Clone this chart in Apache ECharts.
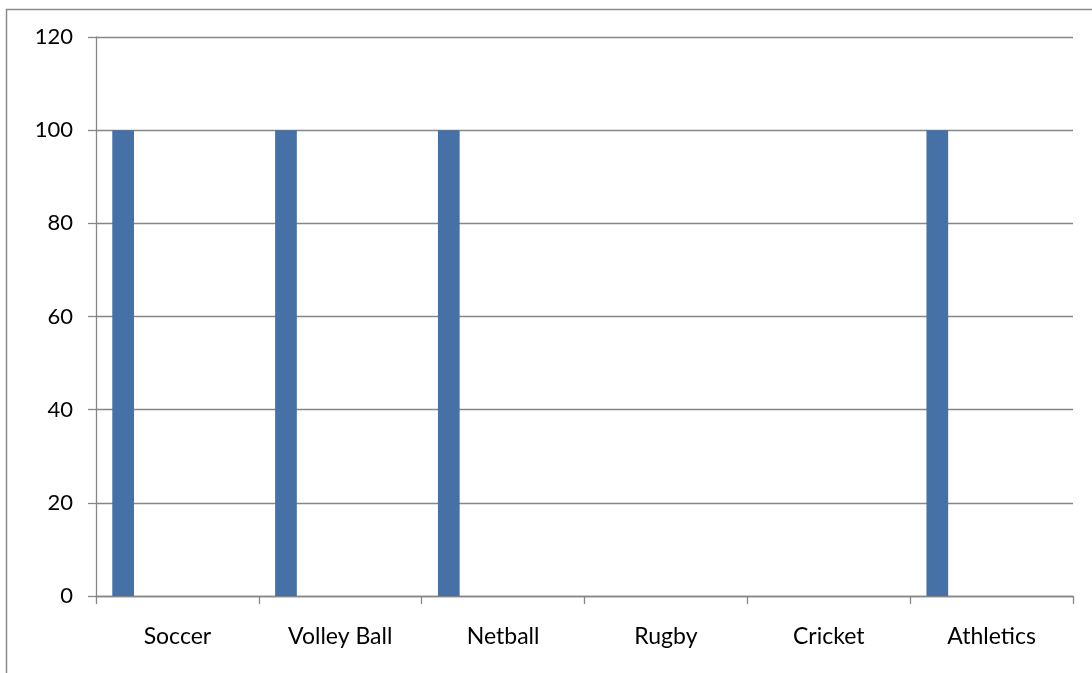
<!DOCTYPE html>
<html>
<head>
<meta charset="utf-8">
<style>
  html, body { margin: 0; padding: 0; background: #ffffff; }
  #chart { width: 1092px; height: 673px; }
</style>
<script src="https://cdn.jsdelivr.net/npm/echarts@6/dist/echarts.min.js"></script>
</head>
<body>
<div id="chart"></div>
<script>
// Sports and the percentage of participation per sport
const categories = ['Soccer', 'Volley Ball', 'Netball', 'Rugby', 'Cricket', 'Athletics'];
const participation = [100, 100, 100, 0, 0, 100];
// Remaining clustered series slots carry no values
const emptySeriesCount = 5;
const yTicks = { min: 0, max: 120, interval: 20 };

const gridColor = '#868686';
const barColor = '#4571a7';
const font = 'Lato, "Open Sans", sans-serif';

const series = [{
  type: 'bar',
  name: 'Series 1',
  data: participation,
  itemStyle: { color: barColor },
  barGap: '0%',
  barCategoryGap: '20%',
  silent: true
}];
for (let i = 0; i < emptySeriesCount; i++) {
  series.push({
    type: 'bar',
    name: 'Series ' + (i + 2),
    data: categories.map(() => null),
    barGap: '0%',
    barCategoryGap: '20%',
    silent: true
  });
}

const chart = echarts.init(document.getElementById('chart'), null, { renderer: 'canvas' });
chart.setOption({
  animation: false,
  backgroundColor: '#ffffff',
  graphic: [{
    type: 'rect',
    shape: { x: 6.5, y: 9.5, width: 1200, height: 800 },
    style: { fill: 'none', stroke: '#8a8a8a', lineWidth: 1.5 },
    silent: true,
    z: -1
  }],
  grid: { left: 96, right: 19, top: 37, bottom: 77, containLabel: false },
  xAxis: {
    type: 'category',
    data: categories,
    axisLine: { show: true, lineStyle: { color: gridColor, width: 1.3 } },
    axisTick: { show: true, length: 8, lineStyle: { color: gridColor, width: 1.3 } },
    axisLabel: { color: '#000000', fontFamily: font, fontSize: 23, margin: 29 },
    splitLine: { show: false }
  },
  yAxis: {
    type: 'value',
    min: yTicks.min,
    max: yTicks.max,
    interval: yTicks.interval,
    axisLine: { show: true, lineStyle: { color: gridColor, width: 1.3 } },
    axisTick: { show: true, length: 8, lineStyle: { color: gridColor, width: 1.3 } },
    axisLabel: { color: '#000000', fontFamily: font, fontSize: 22, margin: 23 },
    splitLine: { show: true, lineStyle: { color: gridColor, width: 1.3 } }
  },
  series: series
});
</script>
</body>
</html>
